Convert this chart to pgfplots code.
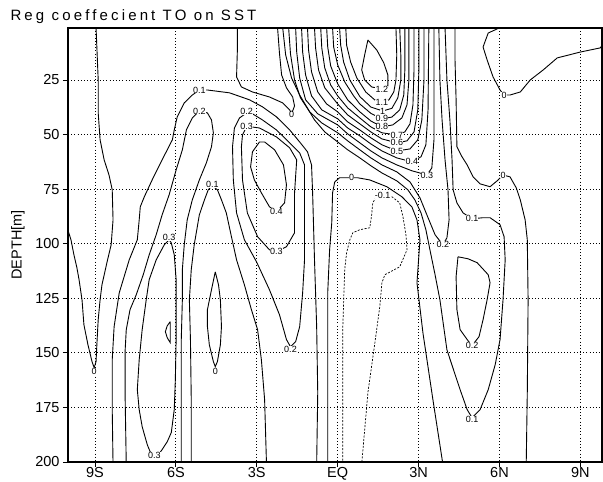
\documentclass[border=0pt]{standalone}
\usepackage{fontspec}
\setmainfont{Liberation Sans}
\usepackage{pgfplots}
\pgfplotsset{compat=1.18}
\tikzset{clab/.style={fill=white, inner sep=0.2pt, font=\fontsize{9}{9}\selectfont}}
\pgfplotsset{cl/.style={black, line width=0.9pt}}
\begin{document}
\begin{tikzpicture}[x=1pt,y=1pt]
\useasboundingbox (-68,-20) rectangle (535,462);
\begin{axis}[
 at={(0pt,0pt)}, anchor=south west,
 scale only axis, width=534pt, height=434pt,
 xmin=-10, xmax=9.8, ymin=1.2, ymax=200, y dir=reverse,
 axis line style={line width=1.2pt},
 xtick={-9,-6,-3,0,3,6,9}, xticklabels={9S,6S,3S,EQ,3N,6N,9N},
 ytick={25,50,75,100,125,150,175,200},
 tick pos=left, tick align=outside, major tick length=5pt,
 tick style={black, line width=0.8pt},
 grid=major, major grid style={black, line width=0.8pt, dash pattern=on 0.8pt off 2.4pt},
 ticklabel style={font=\fontsize{14.5}{14.5}\selectfont},
 xticklabel style={yshift=3pt},
 /pgf/number format/assume math mode=true,
]
% 0 far left
\addplot[cl] coordinates {(-10.04,92.3)(-9.89,98.2)(-9.78,105.1)(-9.67,111.0)(-9.59,116.5)(-9.48,125.7)(-9.41,137.1)(-9.26,146.3)(-9.11,154.0)(-9.03,156.8)(-8.96,154.0)(-8.92,143.9)(-8.88,134.8)(-8.81,125.7)(-8.74,118.8)(-8.55,108.3)(-8.40,100.5)(-8.33,89.1)(-8.36,75.3)(-8.48,68.5)(-8.66,61.6)(-8.81,52.4)(-8.88,40.1)(-8.88,25.0)(-8.96,1.0)};
% 0.1 big left
\addplot[cl] coordinates {(-8.33,201)(-8.36,176.0)(-8.36,153.1)(-8.29,138.0)(-8.10,122.5)(-7.73,107.4)(-7.43,98.2)(-7.36,89.1)(-7.32,83.1)(-7.17,78.5)(-6.88,70.8)(-6.51,61.6)(-6.13,52.4)(-6.06,47.9)(-5.95,41.9)(-5.69,35.5)(-5.39,31.9)(-5.13,29.6)(-4.83,29.6)(-4.01,30.9)(-3.27,34.1)(-2.79,37.3)(-2.27,41.9)(-1.78,47.9)(-1.41,53.4)(-1.12,57.9)(-0.97,63.9)(-0.93,76.7)(-0.86,107.4)(-0.78,138.0)(-0.74,168.2)(-0.78,201)};
% 0.2 6S
\addplot[cl] coordinates {(-7.84,201)(-7.88,171.4)(-7.88,148.6)(-7.84,139.4)(-7.70,130.2)(-7.47,123.4)(-7.21,114.2)(-6.99,105.1)(-6.73,95.9)(-6.51,86.8)(-6.25,77.6)(-5.99,66.2)(-5.76,57.0)(-5.61,47.9)(-5.39,42.4)(-5.13,39.2)(-4.83,40.1)(-4.68,43.3)(-4.61,49.2)(-4.68,55.6)(-4.87,63.0)(-5.13,70.8)(-5.39,79.9)(-5.58,89.1)(-5.69,100.5)(-5.76,111.9)(-5.76,125.7)(-5.80,143.9)(-5.80,171.4)(-5.80,201)};
% 0.3 loop 6S
\addplot[cl] coordinates {(-6.25,98.2)(-6.43,100.5)(-6.73,107.4)(-6.99,116.5)(-7.10,125.7)(-7.25,139.4)(-7.36,153.1)(-7.43,166.9)(-7.36,176.0)(-7.25,183.8)(-7.06,192.1)(-6.88,197.5)(-6.69,197.5)(-6.51,194.3)(-6.32,190.7)(-6.17,186.5)(-6.06,176.0)(-6.02,162.3)(-5.99,143.9)(-5.99,125.7)(-5.99,116.5)(-6.06,105.1)(-6.17,99.6)(-6.25,98.2)};
% 0.4 lens
\addplot[cl] coordinates {(-6.21,135.7)(-6.32,137.6)(-6.39,140.3)(-6.32,143.1)(-6.21,145.3)(-6.21,135.7)};
% 0.1 trough
\addplot[cl] coordinates {(-5.43,201)(-5.43,171.4)(-5.46,143.9)(-5.50,125.7)(-5.43,111.9)(-5.32,100.5)(-5.13,86.8)(-4.94,79.9)(-4.80,75.3)(-4.65,73.5)(-4.46,75.3)(-4.31,79.9)(-4.13,85.9)(-3.94,96.8)(-3.75,107.4)(-3.46,118.8)(-3.20,130.2)(-2.97,139.4)(-2.83,153.1)(-2.71,171.4)(-2.64,201)};
% 0 small loop
\addplot[cl] coordinates {(-4.54,112.9)(-4.68,121.1)(-4.83,130.2)(-4.83,138.0)(-4.76,146.3)(-4.61,154.0)(-4.54,156.3)(-4.46,154.0)(-4.35,146.3)(-4.31,138.0)(-4.35,125.7)(-4.42,118.8)(-4.54,112.9)};
% 0.2 loop 3S
\addplot[cl] coordinates {(-3.38,40.1)(-3.64,42.4)(-3.83,47.0)(-3.90,55.6)(-3.87,70.8)(-3.75,85.9)(-3.46,98.2)(-3.01,108.3)(-2.53,121.1)(-2.16,132.5)(-1.90,143.9)(-1.75,147.2)(-1.56,144.9)(-1.41,138.0)(-1.30,122.5)(-1.23,107.4)(-1.23,79.9)(-1.23,63.9)(-1.41,58.4)(-1.78,53.8)(-2.27,47.9)(-2.79,43.3)(-3.16,40.5)(-3.38,40.1)};
% 0.3 loop 3S
\addplot[cl] coordinates {(-3.38,46.5)(-3.53,50.2)(-3.57,55.6)(-3.53,70.8)(-3.35,85.9)(-2.97,96.8)(-2.53,102.8)(-2.27,103.7)(-1.90,101.4)(-1.60,95.0)(-1.60,76.7)(-1.52,61.6)(-1.78,56.1)(-2.27,51.1)(-2.90,47.0)(-3.20,46.5)(-3.38,46.5)};
% 0.4 loop 3S
\addplot[cl] coordinates {(-2.90,53.4)(-3.16,57.9)(-3.23,64.8)(-3.09,70.8)(-2.83,76.7)(-2.53,83.1)(-2.27,85.4)(-1.97,81.3)(-1.90,73.0)(-2.01,63.9)(-2.34,57.0)(-2.71,53.4)(-2.90,53.4)};
% 0 U top
\addplot[cl] coordinates {(-3.72,1.0)(-3.72,11.3)(-3.75,23.6)(-3.57,28.2)(-3.16,30.5)(-2.53,32.8)(-2.04,35.5)(-1.78,38.7)(-1.71,40.5)(-1.60,36.9)(-1.67,32.8)(-1.90,28.6)(-2.08,22.7)(-2.16,12.6)(-2.23,1.0)};
% 0 inverted U near EQ
\addplot[cl] coordinates {(-0.37,201)(-0.37,168.2)(-0.37,122.5)(-0.30,102.8)(-0.22,90.4)(-0.19,76.7)(-0.11,71.7)(0.07,69.8)(0.52,69.8)(0.74,69.8)(1.19,70.8)(1.82,73.9)(2.38,78.5)(2.75,83.1)(2.94,89.1)(3.05,98.2)(2.94,117.9)(3.16,140.8)(3.53,171.4)(3.90,201)};
% -0.1 dashed
\addplot[black, line width=0.7pt, dash pattern=on 2pt off 1.5pt] coordinates {(0.19,201)(0.19,168.2)(0.19,138.0)(0.26,111.9)(0.33,104.2)(0.45,98.2)(0.56,95.0)(0.82,93.6)(1.19,92.7)(1.26,86.8)(1.30,81.3)(1.41,79.0)(1.67,78.1)(2.01,78.5)(2.30,81.3)(2.42,87.7)(2.53,95.9)(2.57,102.8)(2.30,110.6)(1.75,114.2)(1.64,117.9)(1.56,128.9)(1.38,145.3)(1.12,168.2)(0.89,201)};
% 0 right
\addplot[cl] coordinates {(4.35,1.0)(4.35,15.8)(4.39,34.1)(4.42,55.6)(4.61,60.2)(4.80,63.9)(5.02,69.4)(5.28,72.6)(5.65,73.9)(5.95,70.8)(6.13,68.5)(6.39,69.4)(6.62,74.4)(6.77,79.9)(6.95,89.1)(7.03,98.2)(7.06,125.7)(7.03,168.2)(6.99,201)};
% 0.1 bundle
\addplot[cl] coordinates {(-2.04,1.0)(-1.93,13.5)(-1.71,24.1)(-1.41,31.9)(-1.15,37.3)(-0.86,43.3)(-0.48,48.8)(0,53.4)(0.37,57.0)(0.82,60.7)(1.23,64.3)(1.64,67.6)(2.19,71.2)(2.60,75.3)(2.86,79.9)(3.09,85.9)(3.27,93.6)(3.42,102.8)(3.61,114.2)(3.79,125.7)(4.05,148.6)(4.54,166.9)(4.80,176.0)(4.98,179.7)(5.28,176.0)(5.58,166.9)(5.84,155.4)(6.02,143.9)(6.13,125.7)(6.21,107.4)(6.17,96.8)(6.02,91.3)(5.65,88.1)(5.39,88.1)(4.98,88.6)(4.65,85.9)(4.42,81.3)(4.28,75.3)(4.24,61.6)(4.16,43.3)(4.05,25.0)(3.98,1.0)};
% 0.2 bundle
\addplot[cl] coordinates {(-1.82,1.0)(-1.75,13.1)(-1.60,25.0)(-1.38,33.2)(-1.04,39.6)(-0.59,44.7)(0,49.2)(0.37,52.9)(0.82,57.0)(1.23,60.7)(1.64,63.9)(2.19,67.1)(2.68,71.7)(3.05,79.0)(3.35,88.1)(3.61,95.9)(3.90,100.5)(4.05,97.3)(4.13,89.1)(4.09,75.3)(3.98,61.6)(3.87,43.3)(3.79,25.0)(3.75,1.0)};
% 0.3
\addplot[cl] coordinates {(-1.56,1.0)(-1.52,12.2)(-1.41,24.1)(-1.19,34.1)(-0.74,40.5)(0,45.6)(0.37,49.7)(0.82,53.8)(1.23,57.5)(1.64,60.7)(2.19,63.9)(2.75,66.6)(3.31,68.5)(3.49,65.3)(3.57,52.4)(3.57,34.1)(3.57,1.0)};
% 0.4
\addplot[cl] coordinates {(-1.34,1.0)(-1.30,12.2)(-1.19,22.7)(-0.97,32.3)(-0.59,38.7)(0,42.8)(0.37,47.0)(0.82,50.6)(1.23,54.3)(1.64,57.5)(2.19,60.7)(2.75,62.5)(3.09,60.2)(3.27,54.7)(3.35,38.7)(3.38,1.0)};
% 0.5
\addplot[cl] coordinates {(-1.12,1.0)(-1.08,11.3)(-0.97,21.3)(-0.74,30.5)(-0.41,36.0)(0,39.6)(0.37,44.2)(0.82,47.9)(1.23,51.5)(1.64,54.7)(2.19,57.5)(2.68,56.6)(2.97,52.4)(3.12,43.3)(3.20,25.0)(3.20,1.0)};
% 0.6
\addplot[cl] coordinates {(-0.86,1.0)(-0.82,10.3)(-0.71,20.4)(-0.48,28.6)(0,36.0)(0.37,41.0)(0.82,45.1)(1.23,48.8)(1.64,52.0)(2.19,53.8)(2.57,52.9)(2.83,48.8)(2.97,38.7)(3.01,20.4)(3.01,1.0)};
% 0.7
\addplot[cl] coordinates {(-0.63,1.0)(-0.59,10.3)(-0.48,19.5)(-0.26,27.3)(0,32.3)(0.37,37.8)(0.82,42.4)(1.23,46.5)(1.64,49.2)(2.19,50.2)(2.49,48.8)(2.68,45.1)(2.79,36.4)(2.83,20.4)(2.83,1.0)};
% 0.8
\addplot[cl] coordinates {(-0.41,1.0)(-0.37,9.9)(-0.26,18.6)(0,26.8)(0.37,34.1)(0.82,39.6)(1.23,43.8)(1.64,46.5)(2.04,45.6)(2.38,42.4)(2.57,36.4)(2.64,25.0)(2.64,1.0)};
% 0.9
\addplot[cl] coordinates {(-0.19,1.0)(-0.15,9.9)(0,18.1)(0.26,25.9)(0.59,32.3)(0.82,36.0)(1.23,40.3)(1.64,42.8)(2.01,42.0)(2.30,38.7)(2.45,31.9)(2.49,20.4)(2.49,1.0)};
% 1.0
\addplot[cl] coordinates {(0.07,1.0)(0.11,9.0)(0.22,16.8)(0.45,25.0)(0.82,32.6)(1.23,37.4)(1.67,39.2)(2.01,38.0)(2.23,33.2)(2.34,25.0)(2.34,13.5)(2.30,1.0)};
% 1.1
\addplot[cl] coordinates {(0.30,1.0)(0.33,9.0)(0.48,16.8)(0.71,24.1)(1.04,30.5)(1.38,34.2)(1.64,35.5)(1.90,34.1)(2.08,30.5)(2.16,25.0)(2.19,13.5)(2.16,1.0)};
% 1.2
\addplot[cl] coordinates {(1.12,6.7)(1.00,13.5)(0.89,20.4)(1.00,25.0)(1.26,28.2)(1.64,29.1)(1.86,27.7)(1.86,22.7)(1.71,17.2)(1.45,11.3)(1.12,6.7)};
% 0 top right
\addplot[cl] coordinates {(6.02,1.0)(5.58,3.5)(5.39,9.9)(5.54,15.8)(5.76,23.6)(6.02,29.6)(6.17,31.9)(6.39,31.9)(6.77,30.5)(7.14,25.0)(7.62,20.4)(8.14,14.9)(9.00,12.2)(9.74,10.3)(9.85,8.1)(9.93,3.5)};
% 0.2 loop right
\addplot[cl] coordinates {(4.46,106.0)(4.83,106.9)(5.17,108.7)(5.58,114.2)(5.65,117.9)(5.54,125.7)(5.39,134.8)(5.24,142.6)(4.98,146.7)(4.80,143.9)(4.54,139.4)(4.42,130.2)(4.39,115.1)(4.46,106.0)};
% labels
\node[clab] at (axis cs:-9.03,158.6) {0};
\node[clab] at (axis cs:-5.13,29.6) {0.1};
\node[clab] at (axis cs:-5.13,39.2) {0.2};
\node[clab] at (axis cs:-6.25,97.3) {0.3};
\node[clab] at (axis cs:-6.80,197.0) {0.3};
\node[clab] at (axis cs:-4.65,73.0) {0.1};
\node[clab] at (axis cs:-4.54,158.6) {0};
\node[clab] at (axis cs:-3.38,39.6) {0.2};
\node[clab] at (axis cs:-3.38,46.5) {0.3};
\node[clab] at (axis cs:-2.27,85.4) {0.4};
\node[clab] at (axis cs:-2.27,103.7) {0.3};
\node[clab] at (axis cs:-1.75,148.6) {0.2};
\node[clab] at (axis cs:-1.71,41.0) {0};
\node[clab] at (axis cs:0.52,69.8) {0};
\node[clab] at (axis cs:1.67,78.1) {-0.1};
\node[clab] at (axis cs:1.64,29.1) {1.2};
\node[clab] at (axis cs:1.64,35.5) {1.1};
\node[clab] at (axis cs:1.67,39.2) {1};
\node[clab] at (axis cs:1.64,42.8) {0.9};
\node[clab] at (axis cs:1.64,46.5) {0.8};
\node[clab] at (axis cs:2.19,50.2) {0.7};
\node[clab] at (axis cs:2.19,53.8) {0.6};
\node[clab] at (axis cs:2.19,57.5) {0.5};
\node[clab] at (axis cs:2.75,62.5) {0.4};
\node[clab] at (axis cs:3.31,68.5) {0.3};
\node[clab] at (axis cs:3.90,100.5) {0.2};
\node[clab] at (axis cs:4.98,88.6) {0.1};
\node[clab] at (axis cs:4.98,146.7) {0.2};
\node[clab] at (axis cs:4.98,180.6) {0.1};
\node[clab] at (axis cs:6.13,68.5) {0};
\node[clab] at (axis cs:6.17,31.9) {0};
\end{axis}
\node[anchor=base west, font=\fontsize{15}{15}\selectfont\addfontfeatures{LetterSpace=21}] at (-61,441) {Reg coeffecient TO on SST};
\node[rotate=90, font=\fontsize{14.5}{14.5}\selectfont] at (-50,217) {DEPTH[m]};
\end{tikzpicture}
\end{document}
